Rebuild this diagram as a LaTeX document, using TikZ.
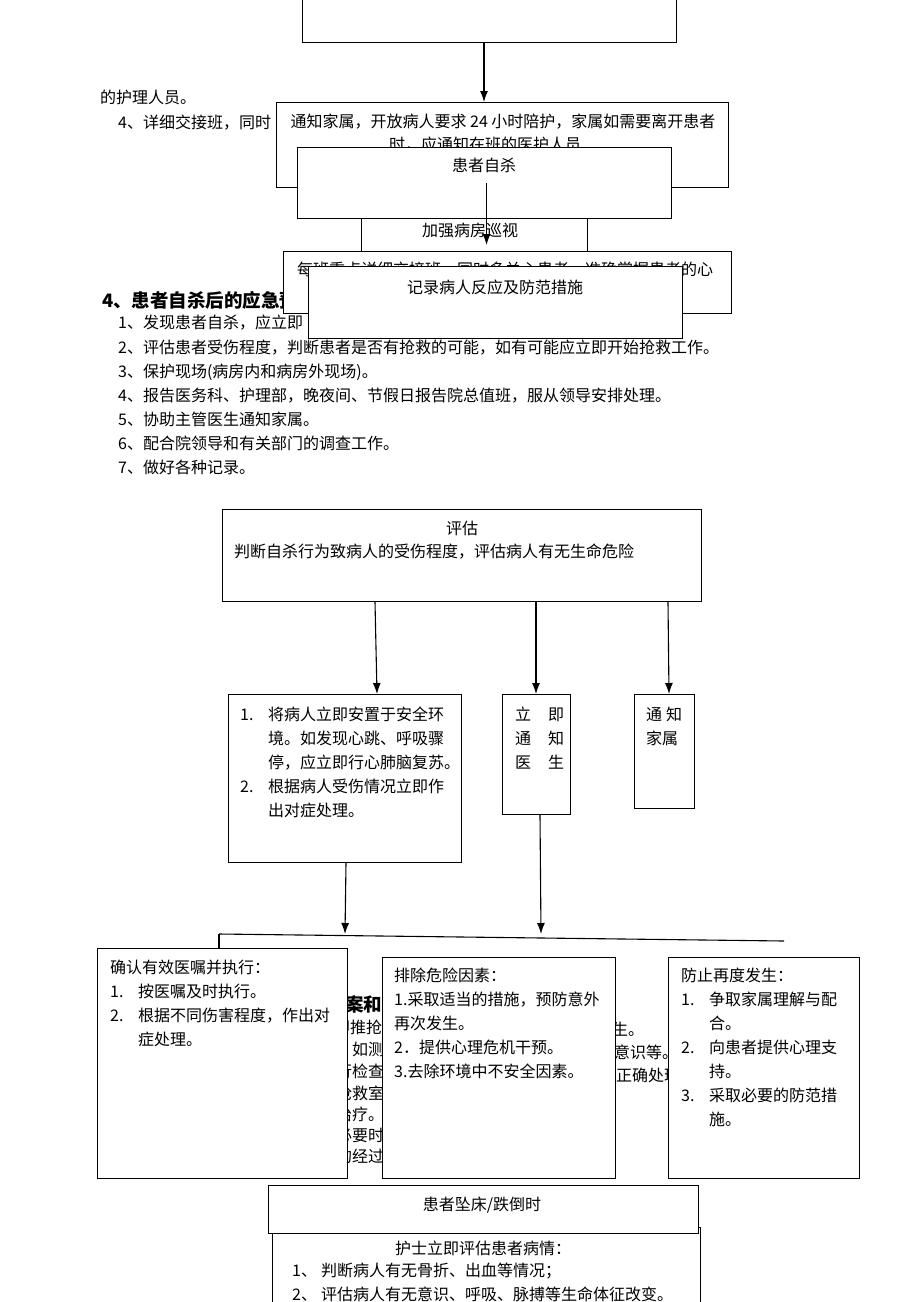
\documentclass[tikz,border=0pt]{standalone}
\usepackage{fontspec}
\setmainfont{Noto Sans CJK SC}
\usetikzlibrary{arrows.meta}

\newcommand{\itm}[1]{\makebox[28pt][l]{#1}}
\newcommand{\cnt}{\hspace*{28pt}}

\begin{document}
\begin{tikzpicture}[x=1pt,y=-1pt,
  box/.style={draw, fill=white, line width=1.1pt, inner sep=0pt, anchor=north west},
  txt/.style={inner sep=0pt, anchor=west, font=\fontsize{16}{24}\selectfont},
  ctxt/.style={inner sep=0pt, anchor=center, font=\fontsize{16}{24}\selectfont},
  para/.style={inner sep=0pt, anchor=north west, align=left, font=\fontsize{16}{24}\selectfont},
  frag/.style={inner sep=0pt, anchor=west, font=\fontsize{16}{20}\selectfont},
  arr/.style={-{Latex[length=11pt,width=8pt]}, line width=1.1pt}]
  \clip (0,0) rectangle (920,1302);
  \fill[white] (0,0) rectangle (920,1302);

  % upper part
  \node[box, minimum width=374pt, minimum height=52pt] (boxA) at (302,-10) {};
  \node[txt] (nurse) at (100,97) {的护理人员。};
  \node[txt] (shift4) at (118,123) {4、详细交接班，同时};
  \node[box, minimum width=452pt, minimum height=85pt] (boxB) at (276,102) {};
  \node[ctxt] (familyA) at (503,122) {通知家属，开放病人要求 24 小时陪护，家属如需要离开患者};
  \node[ctxt] (familyB) at (485,145) {时，应通知在班的医护人员};
  \draw[arr] ([xshift=182pt]boxA.south west) -- ([xshift=182pt]boxA.south west |- boxB.north);
  \node[box, minimum width=226pt, minimum height=51pt] (boxD) at (361,200) {};
  \node[ctxt] (ward) at (470,230) {加强病房巡视};
  \node[box, minimum width=374pt, minimum height=71pt] (boxC) at (297,147) {};
  \node[ctxt] (suicide) at (484,165) {患者自杀};
  \node[txt, font=\fontsize{18.5}{24}\selectfont\bfseries] (head4) at (102,300) {4、患者自杀后的应急预};
  \node[txt] (item1) at (118,323) {1、发现患者自杀，应立即};
  \node[box, minimum width=448pt, minimum height=62pt] (boxE) at (283,251) {};
  \draw[arr] ([xshift=2pt]boxC.center) -- ([xshift=2pt,yshift=6pt]boxC.center |- boxE.north);
  \node[txt] (shiftE) at (297,270) {每班重点详细交接班，同时多关心患者，准确掌握患者的心};
  \node[box, minimum width=374pt, minimum height=72pt] (boxF) at (308,266) {};
  \node[ctxt] (record) at (495,287) {记录病人反应及防范措施};
  \node[para] (steps) at (118,340) {2、评估患者受伤程度，判断患者是否有抢救的可能，如有可能应立即开始抢救工作。\\
    3、保护现场(病房内和病房外现场)。\\
    4、报告医务科、护理部，晚夜间、节假日报告院总值班，服从领导安排处理。\\
    5、协助主管医生通知家属。\\
    6、配合院领导和有关部门的调查工作。\\
    7、做好各种记录。};

  % suicide flow chart
  \node[box, minimum width=479pt, minimum height=92pt] (boxG) at (222,509) {};
  \node[ctxt] (assess) at (462,528) {评估};
  \node[txt] (assessB) at (234,552) {判断自杀行为致病人的受伤程度，评估病人有无生命危险};
  \node[box, minimum width=233pt, minimum height=168pt] (boxH) at (228,694) {};
  \node[para] (rescue) at (240,707) {\itm{1.}将病人立即安置于安全环\\
    \cnt 境。如发现心跳、呼吸骤\\
    \cnt 停，应立即行心肺脑复苏。\\
    \itm{2.}根据病人受伤情况立即作\\
    \cnt 出对症处理。};
  \node[box, minimum width=68pt, minimum height=120pt] (boxI) at (502,694) {};
  \node[para] (doctor) at (515,707) {立\hspace{17pt}即\\通\hspace{17pt}知\\医\hspace{17pt}生};
  \node[box, minimum width=60pt, minimum height=114pt] (boxJ) at (634,694) {};
  \node[para] (family) at (646,707) {通\hspace{4pt}知\\家属};
  \draw[arr] ([xshift=153pt]boxG.south west) -- ([xshift=149pt]boxH.north west);
  \draw[arr] ([xshift=314pt]boxG.south west) -- ([xshift=34pt]boxI.north west);
  \draw[arr] ([xshift=446pt]boxG.south west) -- ([xshift=35pt]boxJ.north west);
  \coordinate (barL) at (219,934);
  \coordinate (barR) at (784,941);
  \draw[line width=1.1pt] (barL) -- (barR);
  \draw[arr] ([xshift=118pt]boxH.south west) -- ([xshift=117pt]boxH.south west |- barL);
  \draw[arr] ([xshift=38pt]boxI.south west) -- ([xshift=39pt]boxI.south west |- barL);

  % text behind the lower boxes
  \node[txt, font=\fontsize{18.5}{24}\selectfont\bfseries] (fragA) at (345,1004) {案和};
  \node[frag] (fragB) at (334,1027) {即推抢};
  \node[frag] (fragC) at (352,1049) {如测};
  \node[frag] (fragD) at (336,1071) {行检查};
  \node[frag] (fragE) at (336,1093) {抢救室};
  \node[frag] (fragF) at (336,1114) {治疗。};
  \node[frag] (fragG) at (336,1135) {必要时};
  \node[frag] (fragH) at (336,1156) {的经过};
  \node[frag] (fragI) at (612,1029) {生。};
  \node[frag] (fragJ) at (614,1052) {意识等。};
  \node[frag] (fragK) at (616,1075) {正确处理};
  \draw[line width=1.1pt] (barL) -- (barL |- 0,948);

  \node[box, minimum width=250pt, minimum height=230pt] (boxK) at (97,948) {};
  \node[para] (orders) at (110,960) {确认有效医嘱并执行：\\
    \itm{1.}按医嘱及时执行。\\
    \itm{2.}根据不同伤害程度，作出对\\
    \cnt 症处理。};
  \node[box, minimum width=233pt, minimum height=221pt] (boxL) at (382,957) {};
  \node[para] (danger) at (394,968) {排除危险因素：\\
    1.采取适当的措施，预防意外\\
    再次发生。\\
    2．提供心理危机干预。\\
    3.去除环境中不安全因素。};
  \node[box, minimum width=191pt, minimum height=221pt] (boxM) at (668,957) {};
  \node[para] (prevent) at (681,968) {防止再度发生：\\
    \itm{1.}争取家属理解与配\\
    \cnt 合。\\
    \itm{2.}向患者提供心理支\\
    \cnt 持。\\
    \itm{3.}采取必要的防范措\\
    \cnt 施。};

  % fall chart
  \node[box, minimum width=428pt, minimum height=93pt] (boxO) at (272,1227) {};
  \node[ctxt] (nurseChk) at (483,1248) {护士立即评估患者病情：};
  \node[para] (checks) at (292,1263) {1、\hspace{4pt}判断病人有无骨折、出血等情况；\\
    2、\hspace{4pt}评估病人有无意识、呼吸、脉搏等生命体征改变。};
  \node[box, minimum width=430pt, minimum height=48pt] (boxN) at (268,1185) {};
  \node[ctxt] (fall) at (482,1205) {患者坠床/跌倒时};
\end{tikzpicture}
\end{document}
